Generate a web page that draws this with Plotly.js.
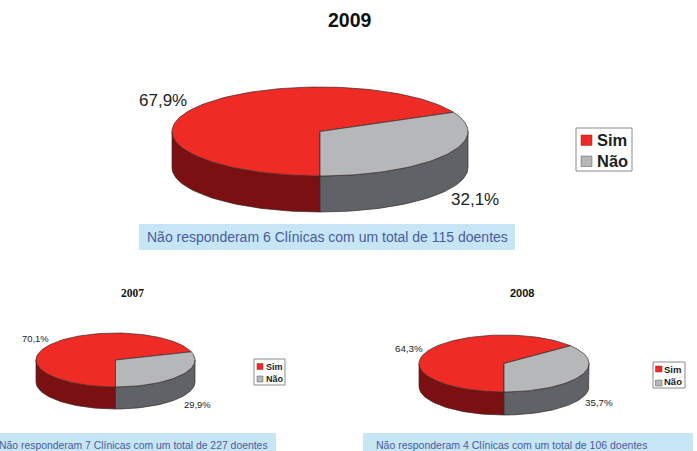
<!DOCTYPE html>
<html>
<head>
<meta charset="utf-8">
<script src="https://cdn.plot.ly/plotly-3.0.1.min.js"></script>
<style>html,body{margin:0;padding:0;background:#fff;overflow:hidden}</style>
</head>
<body>
<div id="chart" style="width:697px;height:451px"></div>
<script>
// Data
const years = ['2009', '2007', '2008'];
const simValues = [67.9, 70.1, 64.3];
const naoValues = [32.1, 29.9, 35.7];
const categories = ['Sim', 'Não'];
const notes = [
  'Não responderam 6 Clínicas com um total de 115 doentes',
  'Não responderam 7 Clínicas com um total de 227 doentes',
  'Não responderam 4 Clínicas com um total de 106 doentes'
];

// Layout of each panel (pixel-like axis units)
const panels = [
  {cx:320, cy:131.5, rx:148, ry:44.5, depth:36,
   title:{x:350,y:20,size:19.5,family:'Liberation Sans, Arial, sans-serif'},
   simLabel:[163,100], naoLabel:[475,199], labelSize:17,
   band:[139,224,515,250], noteX:327.5, noteY:237, noteSize:14,
   legend:{box:[576,128,632,171], sw:[581,592], y1:[135,145.5], y2:[156,166.5], tx:594.5, size:16.5, ty2:-0.5}},
  {cx:115.5, cy:360, rx:79.5, ry:27, depth:22,
   title:{x:132,y:293,size:11.5,family:'Liberation Serif, Times New Roman, serif'},
   simLabel:[35,338.5], naoLabel:[197,404], labelSize:9.4,
   band:[0,433,276,451], noteX:133.5, noteY:445, noteSize:10.4,
   legend:{box:[254,359,285,385], sw:[257,263], y1:[363.5,369.5], y2:[376,382], tx:263.5, size:9, ty2:-0.5}},
  {cx:504, cy:363.5, rx:85, ry:28.5, depth:23,
   title:{x:521.5,y:293,size:11,family:'Liberation Sans, Arial, sans-serif'},
   simLabel:[409,348], naoLabel:[599,402], labelSize:9.8,
   band:[363,433,693,451], noteX:511.5, noteY:445, noteSize:10.5,
   legend:{box:[653,362,685,388], sw:[655.5,662], y1:[366,372], y2:[380,386], tx:662, size:9.5, ty2:-1.5}}
];

const colors = {simTop:'#ee2b25', simSide:'#7a1011', naoTop:'#b5b7b9', naoSide:'#5f6367', edge:'#3a2a2a'};
const fontSans = 'Liberation Sans, Arial, sans-serif';

function arc(p, a0, a1, dy) {
  const xs = [], ys = [], n = Math.max(2, Math.ceil(Math.abs(a1 - a0) / 2));
  for (let i = 0; i <= n; i++) {
    const a = (a0 + (a1 - a0) * i / n) * Math.PI / 180;
    xs.push(p.cx + p.rx * Math.cos(a));
    ys.push(p.cy - p.ry * Math.sin(a) + dy);
  }
  return {xs, ys};
}
function poly(xs, ys, fill, name) {
  return {type:'scatter', mode:'lines', x:xs, y:ys, fill:'toself', fillcolor:fill,
          line:{color:colors.edge, width:0.7}, hoverinfo:'name', name, showlegend:false};
}

const traces = [], shapes = [], annotations = [];
function text(x, y, t, size, color, opts) {
  annotations.push(Object.assign({x, y, xref:'x', yref:'y', text:t, showarrow:false,
    font:{size, color, family:fontSans}, xanchor:'center', yanchor:'middle'}, opts || {}));
}
const pct = v => v.toFixed(1).replace('.', ',') + '%';

panels.forEach((p, i) => {
  const naoEnd = 270 + 360 * naoValues[i] / 100;   // grey wedge runs counter-clockwise from 6 o'clock
  // front walls
  const wallSim0 = arc(p, 180, 270, 0), wallSim1 = arc(p, 270, 180, p.depth);
  traces.push(poly(wallSim0.xs.concat(wallSim1.xs, wallSim0.xs[0]), wallSim0.ys.concat(wallSim1.ys, wallSim0.ys[0]), colors.simSide, categories[0]));
  const wallNao0 = arc(p, 270, 360, 0), wallNao1 = arc(p, 360, 270, p.depth);
  traces.push(poly(wallNao0.xs.concat(wallNao1.xs, wallNao0.xs[0]), wallNao0.ys.concat(wallNao1.ys, wallNao0.ys[0]), colors.naoSide, categories[1]));
  // top wedges
  const simArc = arc(p, naoEnd, 630, 0);
  traces.push(poly([p.cx].concat(simArc.xs, p.cx), [p.cy].concat(simArc.ys, p.cy), colors.simTop, categories[0]));
  const naoArc = arc(p, 270, naoEnd, 0);
  traces.push(poly([p.cx].concat(naoArc.xs, p.cx), [p.cy].concat(naoArc.ys, p.cy), colors.naoTop, categories[1]));

  // value labels
  text(p.simLabel[0], p.simLabel[1], pct(simValues[i]), p.labelSize, '#222');
  text(p.naoLabel[0], p.naoLabel[1], pct(naoValues[i]), p.labelSize, '#222');

  // year title
  text(p.title.x, p.title.y, '<b>' + years[i] + '</b>', p.title.size, '#111', {font:{size:p.title.size, color:'#111', family:p.title.family}});

  // note band
  shapes.push({type:'rect', xref:'x', yref:'y', x0:p.band[0], y0:p.band[1], x1:p.band[2], y1:p.band[3],
    fillcolor:'#c6e6f6', line:{width:0}, layer:'below'});
  text(p.noteX, p.noteY, notes[i], p.noteSize, '#4a5a9c');

  // legend
  const L = p.legend;
  shapes.push({type:'rect', xref:'x', yref:'y', x0:L.box[0], y0:L.box[1], x1:L.box[2], y1:L.box[3],
    fillcolor:'#fff', line:{color:'#8a8a8a', width:1}, layer:'below'});
  shapes.push({type:'rect', xref:'x', yref:'y', x0:L.sw[0], x1:L.sw[1], y0:L.y1[0], y1:L.y1[1],
    fillcolor:colors.simTop, line:{color:'#a02020', width:0.5}});
  shapes.push({type:'rect', xref:'x', yref:'y', x0:L.sw[0], x1:L.sw[1], y0:L.y2[0], y1:L.y2[1],
    fillcolor:colors.naoTop, line:{color:'#555', width:0.5}});
  text(L.tx, (L.y1[0]+L.y1[1])/2, '<b>'+categories[0]+'</b>', L.size, '#222', {xanchor:'left'});
  text(L.tx, (L.y2[0]+L.y2[1])/2 + L.ty2, '<b>'+categories[1]+'</b>', L.size, '#222', {xanchor:'left'});
});

const hidden = {visible:false, fixedrange:true};
Plotly.newPlot('chart', traces, {
  width:697, height:451,
  margin:{l:0, r:0, t:0, b:0},
  paper_bgcolor:'#fff', plot_bgcolor:'#fff',
  showlegend:false,
  xaxis:Object.assign({range:[0,697]}, hidden),
  yaxis:Object.assign({range:[451,0]}, hidden),
  shapes, annotations
}, {displayModeBar:false, staticPlot:true});
</script>
</body>
</html>
